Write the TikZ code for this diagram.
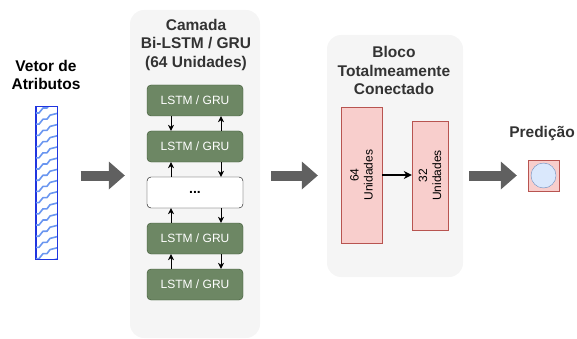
\documentclass[tikz,border=0pt]{standalone}
\usepackage{fontspec}
\setmainfont{Liberation Sans}
\usepackage{tikz}
\usetikzlibrary{positioning, calc, arrows.meta}

\definecolor{panelgray}{HTML}{F5F5F5}
\definecolor{titlegray}{HTML}{333333}
\definecolor{lstmgreen}{HTML}{6D8764}
\definecolor{lstmdark}{HTML}{3A5431}
\definecolor{fcfill}{HTML}{F8CECC}
\definecolor{fcdraw}{HTML}{B85450}
\definecolor{circfill}{HTML}{DAE8FC}
\definecolor{circdraw}{HTML}{6C8EBF}
\definecolor{arrowgray}{HTML}{606060}
\definecolor{vecblue}{HTML}{2035E0}
\definecolor{zigblue}{HTML}{6A96F0}

\begin{document}
\begin{tikzpicture}[x=1pt, y=-1pt, node distance=46pt, >={Stealth[length=6pt,width=6pt]}]
        \tikzstyle{panel}=[fill=panelgray, rounded corners=14pt, inner sep=0pt];
        \tikzstyle{title}=[text=titlegray, font=\bfseries\fontsize{15.5}{18.5}\selectfont, align=center];
        \tikzstyle{lstm}=[draw=lstmdark, fill=lstmgreen, rounded corners=4pt, text=white, minimum width=96pt, minimum height=31pt, font=\fontsize{12}{14}\selectfont];
        \tikzstyle{fcbox}=[draw=fcdraw, fill=fcfill, inner sep=0pt];
        \tikzstyle{fat}=[draw=arrowgray, line width=10pt, -{Triangle[length=16pt,width=28pt,line width=0pt]}];
        \tikzstyle{zig}=[draw=zigblue, line width=1.6pt, line join=round];
        \useasboundingbox (0,0) rectangle (577,339);

        % input vector
        \node[title, text=black] (vectitle) at (46,75) {Vetor de\\Atributos};
        \node[draw=vecblue, fill=white, line width=1pt, minimum width=21pt, minimum height=152pt, inner sep=0pt] (vec) at (46.5,183) {};
        \begin{scope}
          \clip (vec.south west) rectangle (vec.north east);
          \foreach \k in {-1,...,14}
            \draw[zig] (35,{113+11.2*\k}) -- ++(4,0) -- ++(4,-5) -- ++(4,0) -- ++(3,-4) -- ++(8,-2);
        \end{scope}
        \draw[draw=vecblue, line width=1pt] (vec.south west) rectangle (vec.north east);

        % recurrent layer
        \node[panel, minimum width=130pt, minimum height=328pt] (camada) at (195,174) {};
        \node[title] (camtitle) at (196,44.5) {Camada\\Bi-LSTM / GRU\\(64 Unidades)};
        \node[lstm] (l1) at (195,100.5) {LSTM / GRU};
        \node[lstm, below of=l1] (l2) {LSTM / GRU};
        \node[lstm, below of=l2, draw=black, fill=white, text=black, font=\bfseries\fontsize{14}{16}\selectfont] (dots) {...};
        \node[lstm, below of=dots] (l4) {LSTM / GRU};
        \node[lstm, below of=l4] (l5) {LSTM / GRU};

        \path[->]
        ([xshift=-24pt]l1.south) edge ([xshift=-24pt]l2.north)
        ([xshift=26pt]l2.north) edge ([xshift=26pt]l1.south)
        ([xshift=-24pt]dots.north) edge ([xshift=-24pt]l2.south)
        ([xshift=26pt]l2.south) edge ([xshift=26pt]dots.north)
        ([xshift=-24pt]l4.north) edge ([xshift=-24pt]dots.south)
        ([xshift=26pt]dots.south) edge ([xshift=26pt]l4.north)
        ([xshift=-24pt]l5.north) edge ([xshift=-24pt]l4.south)
        ([xshift=26pt]l4.south) edge ([xshift=26pt]l5.north);

        % dense block
        \node[panel, minimum width=136pt, minimum height=242pt] (bloco) at (395,156) {};
        \node[title] (bltitle) at (394,70.5) {Bloco\\Totalmeamente\\Conectado};
        \node[fcbox, minimum width=41pt, minimum height=136pt] (fc1) at (361.5,175) {};
        \node[rotate=90, align=center, font=\fontsize{12}{14}\selectfont] at (fc1) {64\\Unidades};
        \node[fcbox, minimum width=36pt, minimum height=109pt] (fc2) at (430,175.5) {};
        \node[rotate=90, align=center, font=\fontsize{12}{14}\selectfont] at (fc2) {32\\Unidades};
        \draw[line width=1.5pt, -{Stealth[length=8pt,width=8pt]}] (fc1.east) -- (fc1.east -| fc2.west);

        % output
        \node[title] (predtitle) at (542,133) {Predição};
        \node[fcbox, minimum size=31pt] (pred) at (543.5,175.5) {};
        \node[draw=circdraw, fill=circfill, circle, minimum size=25pt, inner sep=0pt] (predcirc) at (pred) {};

        \draw[fat, shorten <=23pt, shorten >=5pt] (vec.east |- pred) -- (camada.west |- pred);
        \draw[fat, shorten <=11pt, shorten >=9pt] (camada.east |- pred) -- (bloco.west |- pred);
        \draw[fat, shorten <=6pt, shorten >=11pt] (bloco.east |- pred) -- (pred.west);
\end{tikzpicture}
\end{document}
